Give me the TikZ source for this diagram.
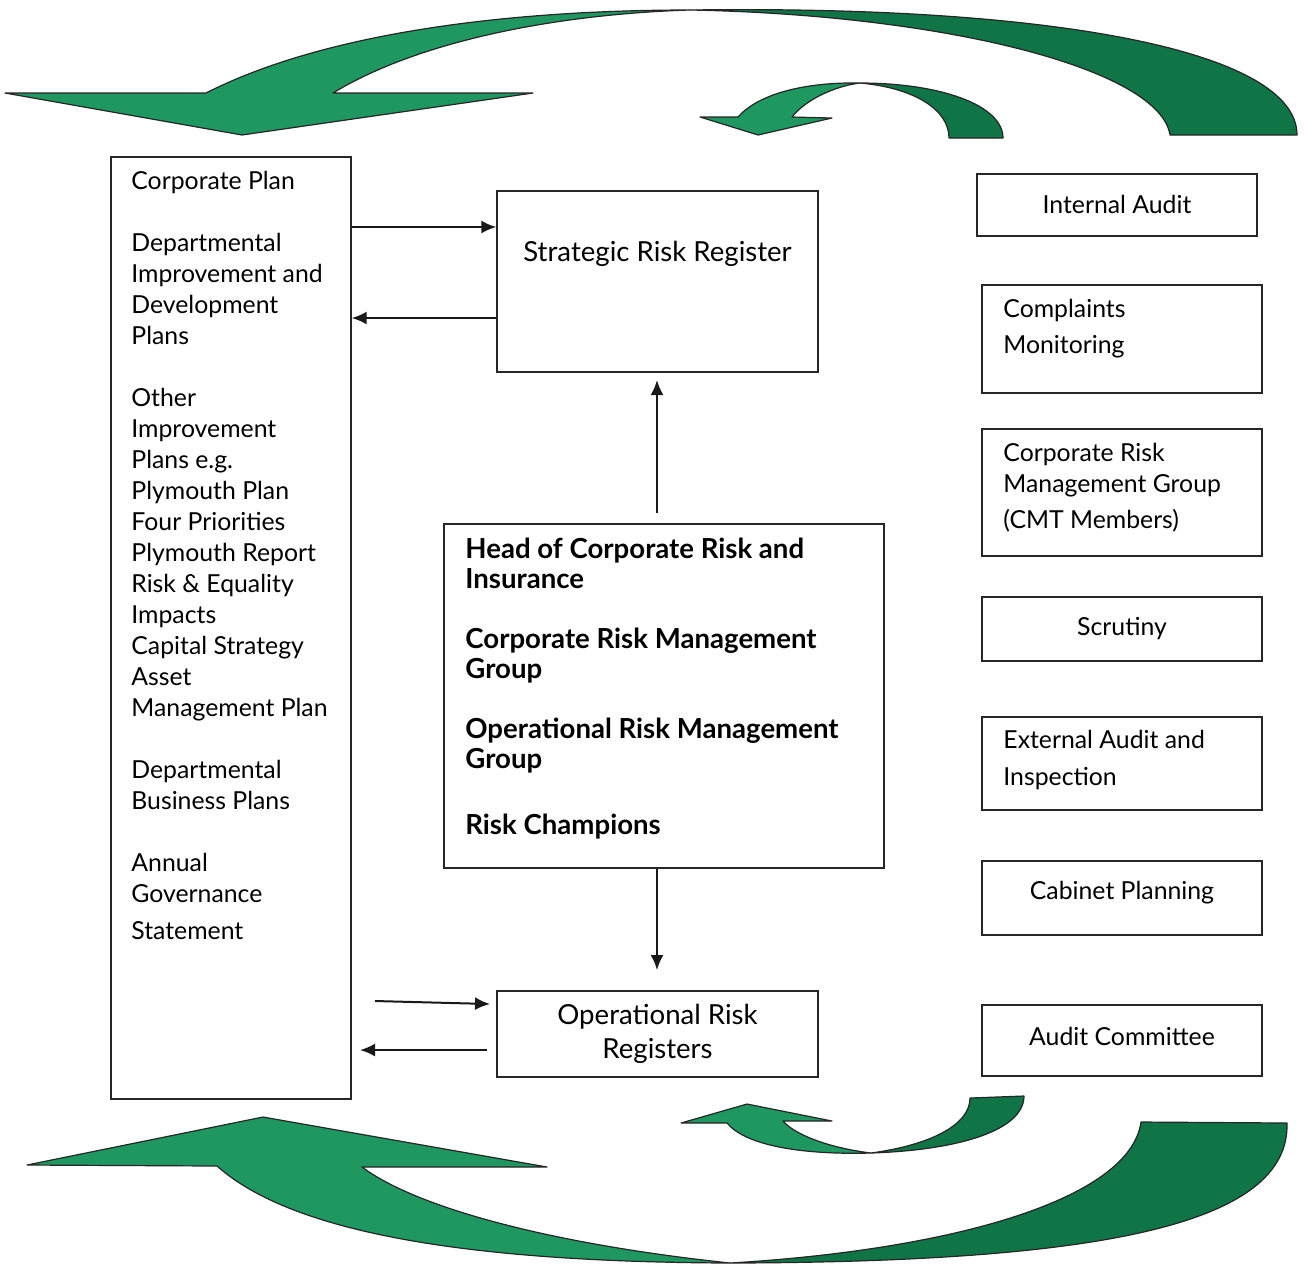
\documentclass[tikz,border=0pt]{standalone}
\usepackage{fontspec}
\setmainfont{Lato}
\usetikzlibrary{arrows.meta}
\definecolor{gl}{HTML}{1E9860}
\definecolor{gd}{HTML}{0F7446}
\begin{document}
\begin{tikzpicture}[x=0.5pt,y=-0.5pt,
  box/.style={draw=black!85, line width=0.7pt, inner sep=0pt},
  txt/.style={inner sep=0pt, font=\fontsize{12.4pt}{15.5pt}\selectfont, align=left},
  ctxt/.style={inner sep=0pt, font=\fontsize{12.4pt}{17pt}\selectfont, align=center},
  rtxt/.style={inner sep=0pt, font=\fontsize{13.8pt}{17pt}\selectfont, align=center},
  btxt/.style={inner sep=0pt, font=\fontsize{13.8pt}{15pt}\selectfont\bfseries, align=left},
  arr/.style={line width=1pt, draw=black!90, -{Latex[length=7.5pt,width=6.5pt]}},
  gshape/.style={draw=black!85, line width=0.6pt, line join=round}]
\useasboundingbox (0,0) rectangle (1305,1266);

% green curved arrows
\path[gshape, fill=gl] (5,93) -- (206,93) .. controls (330,30) and (520,10) .. (690,10)
  .. controls (560,14) and (420,40) .. (333,93) -- (533,93) -- (242,135) -- cycle;
\path[gshape, fill=gd] (690,10) .. controls (1050,5) and (1297,50) .. (1297,135) -- (1170,135)
  .. controls (1160,70) and (950,15) .. (690,10) -- cycle;

\path[gshape, fill=gl] (700,117) -- (738,117) .. controls (760,92) and (810,82) .. (860,83)
  .. controls (835,86) and (805,100) .. (792,117) -- (832,118) -- (758,135) -- cycle;
\path[gshape, fill=gd] (860,83) .. controls (940,83) and (1003,105) .. (1003,138) -- (949,138)
  .. controls (949,110) and (915,88) .. (860,83) -- cycle;

\path[gshape, fill=gl] (27,1165) -- (217,1166) .. controls (300,1240) and (500,1262) .. (730,1263)
  .. controls (560,1245) and (420,1210) .. (362,1167) -- (547,1167) -- (263,1117) -- cycle;
\path[gshape, fill=gd] (730,1263) .. controls (1100,1262) and (1290,1225) .. (1287,1123) -- (1141,1122)
  .. controls (1130,1200) and (950,1250) .. (730,1263) -- cycle;

\path[gshape, fill=gl] (681,1123) -- (727,1123) .. controls (745,1145) and (800,1155) .. (871,1153)
  .. controls (830,1148) and (795,1135) .. (783,1121) -- (832,1121) -- (747,1104) -- cycle;
\path[gshape, fill=gd] (871,1153) .. controls (960,1150) and (1024,1130) .. (1024,1096) -- (970,1098)
  .. controls (970,1125) and (930,1145) .. (871,1153) -- cycle;

% left box
\node[box, minimum width=120pt, minimum height=471pt] (plans) at (231,628) {};
\node[txt, anchor=north west] (planstxt) at (131,171) {Corporate Plan\\[15.5pt]
Departmental\\Improvement and\\Development\\Plans\\[15.5pt]
Other\\Improvement\\Plans e.g.\\Plymouth Plan\\Four Priorities\\Plymouth Report\\Risk \& Equality\\Impacts\\Capital Strategy\\Asset\\Management Plan\\[15.5pt]
Departmental\\Business Plans\\[15.5pt]
Annual\\Governance\\[3pt]Statement};

% strategic risk register
\node[box, minimum width=160.5pt, minimum height=90.5pt] (srr) at (657.5,281.5) {};
\node[rtxt] (srrtxt) at (657.5,254) {Strategic Risk Register};

% central box
\node[box, minimum width=220pt, minimum height=172pt] (groups) at (664,696) {};
\node[btxt, anchor=north west] (groupstxt) at (465,538) {Head of Corporate Risk and\\Insurance\\[15pt]
Corporate Risk Management\\Group\\[15pt]
Operational Risk Management\\Group\\[18pt]
Risk Champions};

% operational risk registers
\node[box, minimum width=160.5pt, minimum height=43pt, rtxt] (orr) at (657.5,1034) {Operational Risk\\Registers};

% right column
\node[box, minimum width=140pt, minimum height=31pt] (ia) at (1117,205) {};
\node[ctxt] (iatxt) at (1117,204) {Internal Audit};
\node[box, minimum width=140pt, minimum height=54pt] (cm) at (1122,339) {};
\node[txt, anchor=north west, font=\fontsize{12.4pt}{18pt}\selectfont] (cmtxt) at (1003,299) {Complaints\\Monitoring};
\node[box, minimum width=140pt, minimum height=63.5pt] (crmg) at (1122,492.5) {};
\node[txt, anchor=north west] (crmgtxt) at (1003,443) {Corporate Risk\\Management Group\\[2.5pt](CMT Members)};
\node[box, minimum width=140pt, minimum height=32pt] (scr) at (1122,629) {};
\node[ctxt] (scrtxt) at (1122,629) {Scrutiny};
\node[box, minimum width=140pt, minimum height=46.5pt] (eai) at (1122,763.5) {};
\node[txt, anchor=north west, font=\fontsize{12.4pt}{18.5pt}\selectfont] (eaitxt) at (1003,730) {External Audit and\\Inspection};
\node[box, minimum width=140pt, minimum height=37pt] (cp) at (1122,898) {};
\node[ctxt] (cptxt) at (1122,893) {Cabinet Planning};
\node[box, minimum width=140pt, minimum height=35.5pt] (ac) at (1122,1040.5) {};
\node[ctxt] (actxt) at (1122,1036) {Audit Committee};

% connectors
\coordinate (y1) at (0,227);
\coordinate (y2) at (0,318);
\draw[arr] (plans.east |- y1) -- (srr.west |- y1);
\draw[arr] (srr.west |- y2) -- (plans.east |- y2);
\coordinate (upstart) at (657,513);
\coordinate (upend) at (657,380);
\draw[arr] (upstart) -- (upend);
\coordinate (downend) at (657,970);
\draw[arr] (groups.south -| downend) -- (downend);
\coordinate (l1) at (375,1001);
\coordinate (r1) at (490,1004);
\draw[arr] (l1) -- (r1);
\coordinate (r2) at (487,1050);
\coordinate (l2) at (360,1050);
\draw[arr] (r2) -- (l2);
\end{tikzpicture}
\end{document}
